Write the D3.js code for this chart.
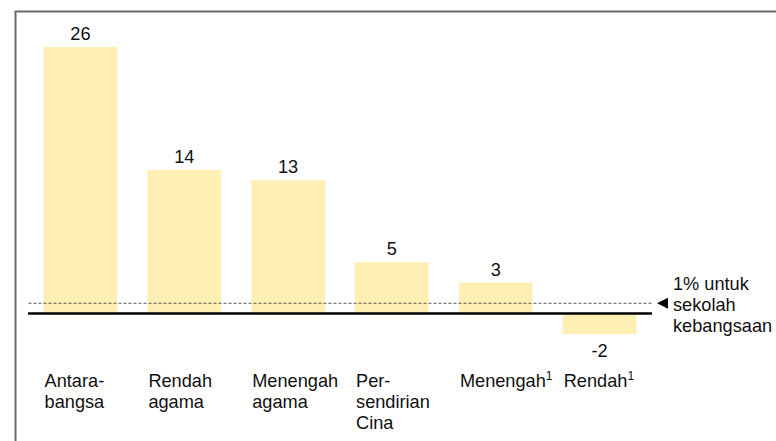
<!DOCTYPE html>
<html>
<head>
<meta charset="utf-8">
<script src="https://cdn.jsdelivr.net/npm/d3@7"></script>
<style>
  html, body { margin: 0; padding: 0; background: #fff; }
  svg { display: block; font-family: "Liberation Sans", Arial, sans-serif; }
</style>
</head>
<body>
<svg id="chart" width="776" height="441"></svg>
<script>
// Category labels (lines), superscript footnote marks, and values (%)
const categories = ["Antarabangsa", "Rendah agama", "Menengah agama", "Persendirian Cina", "Menengah", "Rendah"];
const categoryLines = [["Antara-", "bangsa"], ["Rendah", "agama"], ["Menengah", "agama"], ["Per-", "sendirian", "Cina"], ["Menengah"], ["Rendah"]];
const footnotes = ["", "", "", "", "1", "1"];
const values = [26, 14, 13, 5, 3, -2];
const referenceValue = 1;
const referenceLines = ["1% untuk", "sekolah", "kebangsaan"];

const svg = d3.select("#chart");
const fontSize = 18.2;

const x = d3.scaleBand()
  .domain(categories)
  .range([28.5, 651.5])
  .paddingInner(0.29)
  .paddingOuter(0.145);

const y = d3.scaleLinear()
  .domain([0, 26])
  .range([313.5, 47]);

// Frame
svg.append("path")
  .attr("d", "M15.5,441 V11.5 H776")
  .attr("fill", "none")
  .attr("stroke", "#6a6a6a")
  .attr("stroke-width", 2);

// Bars
svg.append("g").selectAll("rect")
  .data(values)
  .join("rect")
  .attr("x", (d, i) => x(categories[i]))
  .attr("width", x.bandwidth())
  .attr("y", d => y(Math.max(0, d)))
  .attr("height", d => Math.abs(y(d) - y(0)))
  .attr("fill", "#FEF0B5");

// Value labels
svg.append("g").selectAll("text")
  .data(values)
  .join("text")
  .attr("x", (d, i) => x(categories[i]) + x.bandwidth() / 2)
  .attr("y", d => d >= 0 ? y(d) - 7 : y(d) + 23)
  .attr("text-anchor", "middle")
  .attr("font-size", fontSize)
  .attr("fill", "#111")
  .text(d => d);

// Reference (dashed) line
svg.append("line")
  .attr("x1", 28.5).attr("x2", 653)
  .attr("y1", y(referenceValue)).attr("y2", y(referenceValue))
  .attr("stroke", "#555")
  .attr("stroke-width", 1)
  .attr("stroke-dasharray", "3,2");

// Zero baseline
svg.append("line")
  .attr("x1", 28).attr("x2", 652)
  .attr("y1", y(0)).attr("y2", y(0))
  .attr("stroke", "#000")
  .attr("stroke-width", 2.5);

// Pointer triangle
const ty = y(referenceValue);
svg.append("path")
  .attr("d", `M657,${ty} L668,${ty - 5.5} L668,${ty + 5.5} Z`)
  .attr("fill", "#000");

// Reference annotation
svg.append("text")
  .attr("x", 673)
  .attr("y", 290)
  .attr("font-size", fontSize)
  .attr("fill", "#111")
  .selectAll("tspan")
  .data(referenceLines)
  .join("tspan")
  .attr("x", 673)
  .attr("dy", (d, i) => i === 0 ? 0 : 21)
  .text(d => d);

// Category labels
const catG = svg.append("g");
categoryLines.forEach((lines, i) => {
  const t = catG.append("text")
    .attr("x", x(categories[i]) + 1)
    .attr("y", 387)
    .attr("font-size", fontSize)
    .attr("fill", "#111");
  lines.forEach((line, j) => {
    t.append("tspan")
      .attr("x", x(categories[i]) + 1)
      .attr("dy", j === 0 ? 0 : 21)
      .text(line);
  });
  if (footnotes[i]) {
    t.append("tspan")
      .attr("font-size", 12)
      .attr("dy", -7)
      .text(footnotes[i]);
  }
});
</script>
</body>
</html>
